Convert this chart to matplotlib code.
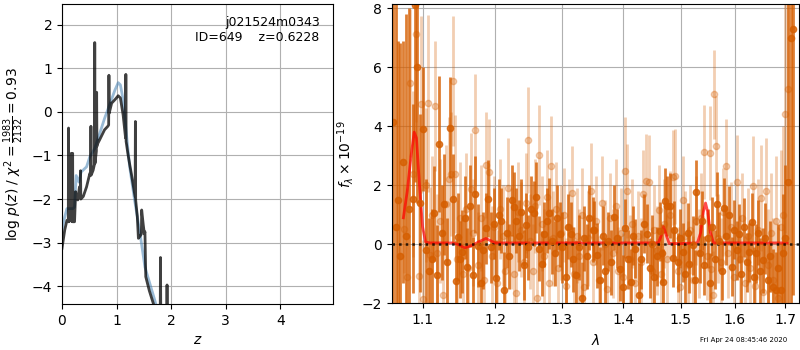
import numpy as np
import matplotlib
matplotlib.use("Agg")
import matplotlib.pyplot as plt
from matplotlib.ticker import ScalarFormatter, NullLocator

# --- p(z) panel ---
z_dark = [0.00, 0.05, 0.09, 0.115, 0.12, 0.125, 0.155, 0.165, 0.17, 0.175, 0.19, 0.195,
          0.20, 0.23, 0.25, 0.27, 0.29, 0.32, 0.335, 0.34, 0.345, 0.39, 0.45, 0.51,
          0.525, 0.53, 0.535, 0.57, 0.595, 0.60, 0.605, 0.63, 0.635, 0.64, 0.645, 0.69,
          0.78, 0.84, 0.855, 0.86, 0.865, 0.91, 0.97, 1.03, 1.07, 1.12, 1.165, 1.17,
          1.175, 1.21, 1.24, 1.27, 1.34, 1.345, 1.35, 1.38, 1.40, 1.43, 1.455, 1.46,
          1.49, 1.51, 1.52, 1.535, 1.60, 1.67, 1.72, 1.80, 1.805, 1.81, 1.85, 1.92,
          1.925, 1.93, 1.97]
logp_dark = [-3.13, -2.71, -2.49, -2.52, -0.37, -2.52, -2.45, -2.5, -0.95, -2.5, -2.52, -0.95,
             -2.52, -2.52, -1.83, -2.0, -2.02, -1.72, -1.95, -1.35, -2.0, -1.94, -1.72, -1.41,
             -1.45, -0.33, -1.45, -1.34, -1.2, 1.59, -1.18, -0.9, 0.45, -0.79, -0.75, -0.64,
             -0.41, -0.33, -0.3, 0.84, -0.03, 0.2, 0.28, 0.37, 0.32, -0.07, -0.6, 0.86,
             -0.68, -0.98, -1.2, -1.41, -1.95, -0.22, -2.02, -2.4, -2.9, -2.85, -2.8, -2.25,
             -2.6, -2.8, -2.75, -3.78, -4.1, -4.38, -4.6, -4.6, -3.34, -4.6, -4.6, -4.6,
             -3.97, -4.6, -4.6]

z_blue = [0.0, 0.05, 0.09, 0.2, 0.23, 0.26, 0.31, 0.35, 0.45, 0.51, 0.6, 0.69, 0.78,
          0.88, 0.97, 1.03, 1.07, 1.12, 1.18, 1.24, 1.33, 1.43, 1.52, 1.61, 1.70, 1.76]
logp_blue = [-2.71, -2.41, -2.22, -2.22, -2.18, -1.46, -1.61, -1.38, -1.26, -1.03, -0.84,
             -0.5, -0.15, 0.19, 0.5, 0.67, 0.62, 0.28, -0.5, -1.26, -2.02, -2.79, -3.56,
             -3.94, -4.32, -4.6]

# --- spectrum panel: first grism / PA (dark) ---
wave_a = [1.062, 1.065, 1.068, 1.071, 1.074, 1.078, 1.082, 1.087, 1.090, 1.093, 1.097, 1.101,
          1.105, 1.109, 1.112, 1.115, 1.119, 1.122, 1.126, 1.129, 1.133, 1.137, 1.141, 1.145,
          1.148, 1.151, 1.154, 1.157, 1.160, 1.164, 1.168, 1.172, 1.176, 1.180, 1.183, 1.187,
          1.190, 1.194, 1.198, 1.202, 1.206, 1.209, 1.213, 1.217, 1.220, 1.224, 1.228, 1.231,
          1.235, 1.238, 1.242, 1.245, 1.249, 1.253, 1.257, 1.261, 1.265, 1.269, 1.273, 1.277,
          1.281, 1.285, 1.289, 1.293, 1.297, 1.301, 1.306, 1.310, 1.314, 1.318, 1.323, 1.327,
          1.332, 1.336, 1.340, 1.344, 1.349, 1.352, 1.357, 1.361, 1.366, 1.370, 1.375, 1.379,
          1.384, 1.390, 1.395, 1.399, 1.403, 1.408, 1.413, 1.417, 1.420, 1.426, 1.430, 1.435,
          1.441, 1.445, 1.449, 1.453, 1.458, 1.462, 1.466, 1.468, 1.471, 1.476, 1.481, 1.485,
          1.488, 1.494, 1.498, 1.503, 1.508, 1.512, 1.515, 1.521, 1.525, 1.528, 1.534, 1.538,
          1.543, 1.549, 1.553, 1.557, 1.562, 1.566, 1.571, 1.575, 1.580, 1.584, 1.589, 1.595,
          1.599, 1.604, 1.608, 1.613, 1.618, 1.623, 1.628, 1.633, 1.637, 1.641, 1.646, 1.650,
          1.655, 1.660, 1.665, 1.670, 1.675, 1.682, 1.686, 1.691, 1.696, 1.700, 1.705, 1.711,
          1.715]
flux_a = [4.15, 0.6, 1.5, -0.4, 2.8, 0.3, 1.2, 1.55, 8.1, 6.0, 1.4, 3.9,
          -0.2, -0.9, -0.5, 1.05, -1.05, 3.4, 0.4, 1.35, -0.6, 3.95, 1.55, -1.25,
          0.25, -0.5, -0.25, 0.9, -0.75, 1.3, -1.05, 1.7, -0.05, -1.3, -0.2, 0.55,
          1.55, -0.1, 0.7, -1.15, 1.0, 0.8, -1.55, 0.4, -0.4, 1.5, 1.25, 0.8,
          0.3, 1.1, -0.7, 0.65, -0.1, 1.2, 1.05, 1.6, -0.15, -0.65, 0.35, 0.8,
          1.05, 0.1, -0.3, 0.9, 0.35, -0.1, -1.1, 0.6, 0.35, -0.5, -1.05, -0.1,
          -1.8, 0.2, -0.4, 0.9, 0.5, 0.47, -0.37, -1.2, 0.3, -0.9, 0.1, -0.6,
          0.92, 0.2, -0.82, -1.45, 0.55, -0.5, -1.27, 0.3, -0.15, -1.72, -0.5, 0.7,
          0.36, -0.8, 0.0, -1.1, -0.4, 0.45, -0.3, -1.27, 1.48, 1.3, 1.3, -0.45,
          0.47, -0.6, 0.2, -0.26, -1.0, 0.4, -0.65, -0.03, -1.2, 1.76, -0.3, 0.8,
          -0.7, 0.2, -1.3, 0.6, -0.5, 1.35, 0.1, -0.9, 1.23, 0.3, 0.98, -0.75,
          0.5, -0.2, 0.36, -1.0, 0.58, -0.6, -0.26, 0.75, -1.1, -0.3, 0.4, -0.9,
          -0.54, 0.2, -1.2, -0.4, -1.45, -1.55, -0.8, -1.55, -0.3, 0.2, 2.1, 7.0,
          7.3]
err_a = [9.0, 8.0, 5.4, 7.2, 4.1, 7.5, 6.8, 3.2, 6.0, 4.6, 3.0, 2.1,
         2.4, 1.8, 1.7, 1.6, 1.7, 2.3, 1.6, 1.7, 1.5, 1.7, 1.5, 1.4,
         1.5, 1.3, 1.4, 1.4, 1.3, 1.4, 1.3, 1.3, 1.4, 1.4, 1.3, 1.2,
         1.3, 1.2, 1.2, 1.3, 1.2, 1.1, 1.3, 1.2, 1.1, 1.2, 1.2, 1.1,
         1.2, 1.1, 1.2, 1.1, 1.1, 1.1, 1.1, 1.2, 1.1, 1.1, 1.1, 1.1,
         1.2, 1.1, 1.1, 1.1, 1.1, 1.2, 1.2, 1.1, 1.1, 1.1, 1.2, 1.1,
         1.2, 1.1, 1.1, 1.1, 1.1, 1.0, 1.1, 1.1, 1.0, 1.1, 1.0, 1.1,
         1.1, 1.0, 1.1, 1.1, 1.0, 1.0, 1.1, 1.0, 1.0, 1.1, 1.0, 1.0,
         1.0, 1.0, 1.0, 1.0, 1.0, 1.0, 1.0, 1.1, 1.1, 1.0, 1.1, 1.0,
         1.0, 1.0, 1.0, 1.0, 1.0, 1.0, 1.0, 1.0, 1.0, 1.1, 1.0, 1.0,
         1.0, 1.0, 1.0, 1.0, 1.0, 1.1, 1.0, 1.0, 1.0, 1.0, 1.0, 1.0,
         1.0, 1.0, 1.0, 1.0, 1.0, 1.0, 1.0, 1.0, 1.0, 1.0, 1.1, 1.1,
         1.1, 1.2, 1.2, 1.2, 1.3, 1.3, 1.5, 1.6, 2.0, 2.5, 8.0, 9.0,
         9.0]

# --- second PA (light) ---
wave_b = [1.076, 1.080, 1.083, 1.087, 1.091, 1.095, 1.098, 1.101, 1.104, 1.107, 1.110, 1.113,
          1.116, 1.119, 1.123, 1.127, 1.131, 1.135, 1.138, 1.141, 1.144, 1.147, 1.151, 1.155,
          1.159, 1.162, 1.166, 1.169, 1.172, 1.176, 1.180, 1.184, 1.187, 1.191, 1.195, 1.199,
          1.203, 1.207, 1.211, 1.215, 1.219, 1.223, 1.227, 1.230, 1.234, 1.238, 1.242, 1.245,
          1.248, 1.252, 1.256, 1.259, 1.262, 1.265, 1.269, 1.273, 1.277, 1.280, 1.283, 1.287,
          1.291, 1.295, 1.299, 1.303, 1.307, 1.311, 1.316, 1.320, 1.324, 1.328, 1.332, 1.336,
          1.341, 1.346, 1.350, 1.355, 1.359, 1.364, 1.369, 1.373, 1.378, 1.382, 1.387, 1.391,
          1.396, 1.400, 1.403, 1.406, 1.411, 1.415, 1.420, 1.424, 1.429, 1.433, 1.439, 1.443,
          1.448, 1.452, 1.457, 1.461, 1.465, 1.470, 1.475, 1.480, 1.485, 1.490, 1.494, 1.499,
          1.503, 1.508, 1.512, 1.517, 1.522, 1.527, 1.532, 1.537, 1.543, 1.548, 1.553, 1.556,
          1.559, 1.561, 1.564, 1.569, 1.574, 1.578, 1.583, 1.588, 1.593, 1.598, 1.605, 1.610,
          1.615, 1.620, 1.625, 1.630, 1.635, 1.640, 1.646, 1.651, 1.656, 1.661, 1.666, 1.671,
          1.676, 1.681, 1.686, 1.691, 1.696, 1.700, 1.705]
flux_b = [0.53, -1.1, 5.47, 2.38, 7.13, -1.08, 4.74, -1.85, 2.0, 4.78, -0.37, 1.0,
          4.7, -0.3, 0.8, -1.72, 1.35, 2.2, 2.38, 5.53, 2.38, -0.5, 0.9, -1.0,
          1.2, -0.8, 1.88, 0.4, 3.87, -0.7, 0.9, -1.2, 2.69, 2.44, -0.4, 0.6,
          -1.3, 1.2, 0.3, -0.9, 1.9, 0.2, -1.0, -1.66, 1.1, 0.5, -0.6, 1.4,
          3.54, 0.1, -0.9, 1.3, -1.8, 3.03, 0.7, -0.4, 1.6, -1.3, 2.66, 0.2,
          1.2, -0.8, 0.4, 1.0, -1.4, 0.6, 1.73, -1.0, 0.3, -0.4, 1.0, -1.44,
          0.2, 1.82, -0.6, 0.8, -1.2, 1.4, 0.0, -1.5, 0.9, -0.3, 1.3, -0.9,
          0.4, -1.1, 2.5, 1.8, -0.5, 0.7, -1.3, 0.3, -0.6, 1.7, 2.15, 2.1,
          -0.9, 0.5, -0.2, 1.17, -1.0, 0.7, -0.5, 1.0, 2.27, 2.3, -0.9, -1.45,
          1.5, 0.3, -0.7, 0.5, -1.2, 0.8, -0.3, 0.9, 3.13, -0.4, 3.1, -0.82,
          -1.72, 5.08, 3.33, 0.2, -0.6, 1.1, 2.64, -0.3, 0.6, -1.1, 2.1, -0.5,
          0.9, -1.3, 0.3, -0.8, 1.97, -1.4, 0.5, 1.57, -1.6, 1.8, -0.7, 0.4,
          -1.2, 0.8, -1.8, 0.6, 1.0, 4.4, 5.25]
err_b = [1.5, 3.0, 2.5, 2.8, 3.0, 2.5, 3.0, 2.0, 2.6, 3.0, 2.3, 2.0,
         2.2, 2.0, 2.1, 2.2, 2.0, 2.1, 2.1, 2.2, 2.0, 2.0, 1.9, 1.9,
         1.9, 1.8, 1.9, 1.8, 1.9, 1.8, 1.8, 1.8, 1.8, 1.8, 1.7, 1.7,
         1.8, 1.7, 1.7, 1.7, 1.7, 1.7, 1.7, 1.7, 1.7, 1.6, 1.7, 1.7,
         1.8, 1.6, 1.6, 1.6, 1.7, 1.7, 1.6, 1.6, 1.6, 1.6, 1.7, 1.6,
         1.6, 1.6, 1.6, 1.6, 1.6, 1.6, 1.6, 1.6, 1.6, 1.6, 1.6, 1.6,
         1.6, 1.6, 1.6, 1.5, 1.5, 1.6, 1.5, 1.5, 1.5, 1.5, 1.6, 1.5,
         1.5, 1.5, 1.8, 1.6, 1.5, 1.5, 1.5, 1.5, 1.5, 1.5, 1.6, 1.6,
         1.5, 1.5, 1.5, 1.5, 1.5, 1.5, 1.5, 1.5, 1.6, 1.6, 1.5, 1.5,
         1.5, 1.5, 1.5, 1.5, 1.5, 1.5, 1.5, 1.5, 1.6, 1.5, 1.6, 1.5,
         1.5, 1.5, 1.7, 1.5, 1.5, 1.5, 1.6, 1.5, 1.5, 1.5, 1.6, 1.5,
         1.5, 1.6, 1.6, 1.6, 1.7, 1.7, 1.7, 1.8, 1.8, 1.8, 1.9, 2.0,
         2.1, 2.2, 2.4, 2.6, 3.0, 4.0, 3.0]

# --- best-fit model ---
wave_m = [1.075, 1.080, 1.085, 1.089, 1.092, 1.096, 1.100, 1.104, 1.110, 1.140, 1.148,
          1.157, 1.166, 1.178, 1.187, 1.194, 1.200, 1.300, 1.400, 1.460, 1.465, 1.469,
          1.474, 1.479, 1.500, 1.530, 1.536, 1.541, 1.545, 1.549, 1.554, 1.560, 1.600,
          1.704]
flux_m = [0.9, 1.8, 3.0, 3.8, 3.6, 2.0, 0.6, 0.08, 0.05, 0.05, 0.0,
          -0.12, -0.05, 0.1, 0.2, 0.12, 0.05, 0.05, 0.05, 0.05, 0.3, 0.6,
          0.3, 0.03, 0.03, 0.05, 0.4, 1.1, 1.4, 1.1, 0.4, 0.05, 0.05,
          0.05]

lam_ticks = [1.1, 1.2, 1.3, 1.4, 1.5, 1.6, 1.7]
grism_color = (0.8352941176470589, 0.3686274509803922, 0.0)

fig = plt.figure(figsize=(8, 3.5), dpi=100)

ax = fig.add_axes([0.0775, 0.131, 0.339, 0.857])
ax.plot(z_blue, logp_blue, color="steelblue", alpha=0.55, lw=2)
ax.plot(z_dark, logp_dark, color="k", alpha=0.75, lw=2)
ax.set_xlim(0, 4.97)
ax.set_ylim(-4.41, 2.47)
ax.set_xticks([0, 1, 2, 3, 4])
ax.set_xlabel("$z$")
ax.set_ylabel(r"log $p(z)$ / $\chi^2=\frac{1983}{2132}=0.93$")
ax.text(0.95, 0.96, "j021524m0343\nID=649    z=0.6228", transform=ax.transAxes,
        ha="right", va="top", fontsize=9)
ax.grid()

ax2 = fig.add_axes([0.4896, 0.133, 0.5095, 0.855])
ax2.errorbar(wave_b, flux_b, err_b, marker="o", ms=4.5, color=grism_color, alpha=0.3,
             linestyle="None", elinewidth=2)
ax2.errorbar(wave_a, flux_a, err_a, marker="o", ms=4.5, color=grism_color, alpha=0.8,
             linestyle="None", elinewidth=2)
ax2.plot(wave_m, flux_m, color="r", alpha=0.7, lw=2)
ax2.axhline(0, color="k", linestyle=":", lw=1.8, alpha=0.8)
ax2.set_xscale("log")
ax2.set_xlim(1.06, 1.729)
ax2.set_ylim(-2, 8.13)
ax2.set_xticks(lam_ticks)
ax2.xaxis.set_major_formatter(ScalarFormatter())
ax2.xaxis.set_minor_locator(NullLocator())
ax2.set_yticks([-2, 0, 2, 4, 6, 8])
ax2.set_xlabel(r"$\lambda$")
ax2.set_ylabel(r"$f_\lambda \times 10^{-19}$")
ax2.grid()

fig.text(0.984, 0.02, "Fri Apr 24 08:45:46 2020", ha="right", va="bottom", fontsize=5)

fig.savefig("out.png", dpi=100)
